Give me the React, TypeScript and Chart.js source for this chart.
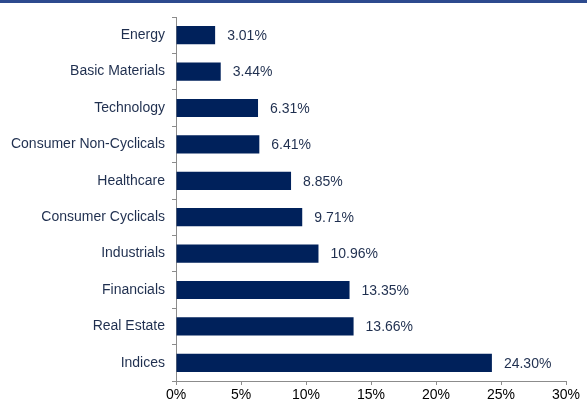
import React, { useEffect, useRef } from "react";
import { Chart, registerables } from "chart.js";

Chart.register(...registerables);

const categories = [
  "Energy",
  "Basic Materials",
  "Technology",
  "Consumer Non-Cyclicals",
  "Healthcare",
  "Consumer Cyclicals",
  "Industrials",
  "Financials",
  "Real Estate",
  "Indices",
];
const values = [3.01, 3.44, 6.31, 6.41, 8.85, 9.71, 10.96, 13.35, 13.66, 24.3];
const xTicks = [0, 5, 10, 15, 20, 25, 30];

const BAR = "#00215b";
const TEXT = "#1f2f4f";
const AXIS = "#8c8c8c";
const FONT = "'Liberation Sans', Arial, sans-serif";

const valueLabels = {
  id: "valueLabels",
  afterDatasetsDraw(chart: any) {
    const ctx = chart.ctx;
    const meta = chart.getDatasetMeta(0);
    ctx.save();
    ctx.fillStyle = TEXT;
    ctx.font = `14px ${FONT}`;
    ctx.textAlign = "left";
    ctx.textBaseline = "middle";
    meta.data.forEach((el: any, i: number) => {
      ctx.fillText(values[i].toFixed(2) + "%", el.x + 12, el.y + 1);
    });
    ctx.restore();
  },
};

const topStripe = {
  id: "topStripe",
  beforeDraw(chart: any) {
    const ctx = chart.ctx;
    ctx.save();
    ctx.fillStyle = "#2d4a8e";
    ctx.fillRect(0, 0, chart.width, 3);
    ctx.restore();
  },
};

export default function App() {
  const ref = useRef<HTMLCanvasElement>(null);
  useEffect(() => {
    document.body.style.margin = "0";
    const chart = new Chart(ref.current!, {
      type: "bar",
      data: {
        labels: categories,
        datasets: [
          {
            data: values,
            backgroundColor: BAR,
            barPercentage: 0.5,
            categoryPercentage: 1,
          },
        ],
      },
      options: {
        indexAxis: "y",
        animation: false,
        responsive: false,
        maintainAspectRatio: false,
        layout: { padding: { top: 17, right: 21, bottom: 0, left: 0 } },
        plugins: { legend: { display: false }, tooltip: { enabled: false } },
        scales: {
          x: {
            min: 0,
            max: 30,
            afterBuildTicks(scale: any) {
              scale.ticks = xTicks.map((v) => ({ value: v }));
            },
            afterFit(scale: any) {
              scale.height = 24;
            },
            ticks: {
              color: "#000",
              font: { family: FONT, size: 14 },
              padding: 2,
              maxRotation: 0,
              callback: (v: any) => v + "%",
            },
            grid: {
              drawOnChartArea: false,
              drawTicks: true,
              tickLength: 4,
              color: AXIS,
            },
            border: { color: AXIS, width: 1 },
          },
          y: {
            afterFit(scale: any) {
              scale.width = 176;
            },
            ticks: {
              color: TEXT,
              font: { family: FONT, size: 14 },
              padding: 7,
            },
            grid: {
              drawOnChartArea: false,
              drawTicks: true,
              tickLength: 4,
              offset: true,
              color: AXIS,
            },
            border: { color: AXIS, width: 1 },
          },
        },
      },
      plugins: [valueLabels, topStripe],
    });
    return () => chart.destroy();
  }, []);
  return (
    <div style={{ width: 587, height: 405, background: "#fff" }}>
      <canvas ref={ref} width={587} height={405} style={{ display: "block" }} />
    </div>
  );
}
